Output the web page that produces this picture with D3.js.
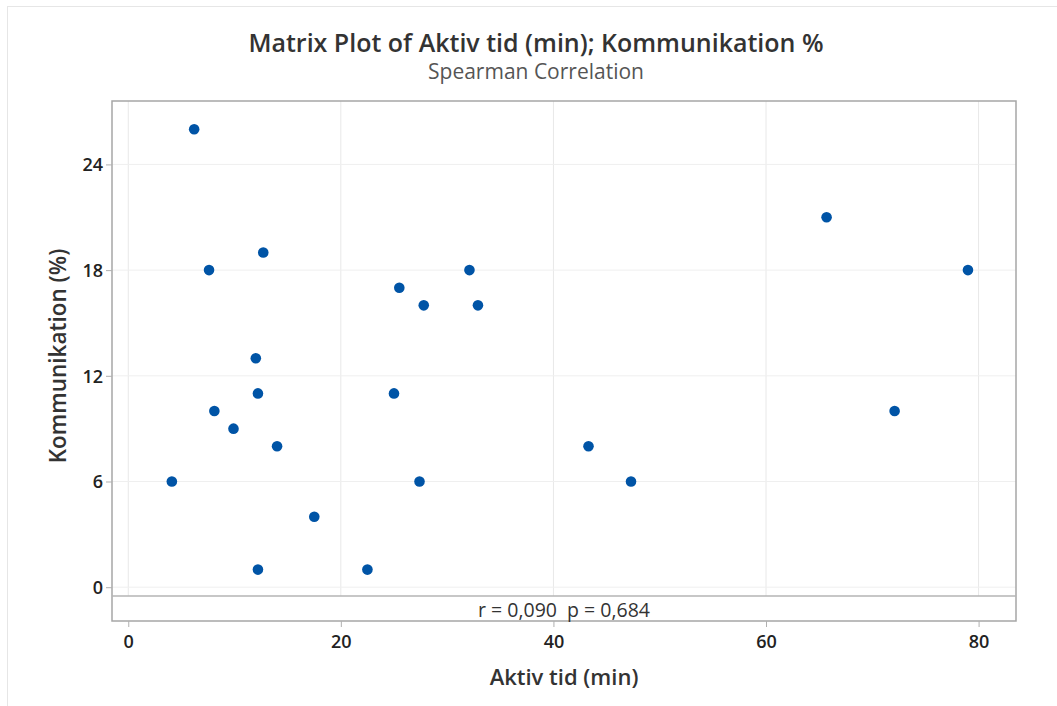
<!DOCTYPE html>
<html>
<head>
<meta charset="utf-8">
<script src="https://cdn.jsdelivr.net/npm/d3@7"></script>
<style>
  body { margin: 0; background: #fff; }
  svg { display: block; font-family: "Open Sans", "Noto Sans", sans-serif; }
</style>
</head>
<body>
<svg id="chart"></svg>
<script>
const width = 1057;
const height = 706;

// Aktiv tid (min) vs Kommunikation (%)
const aktivTid = [6.2, 7.6, 12.7, 12.0, 12.2, 8.1, 9.9, 14.0, 4.1, 17.5, 12.2, 22.5,
                  25.0, 25.5, 27.8, 27.4, 32.1, 32.9, 43.3, 47.3, 65.7, 72.1, 79.0];
const kommunikation = [26, 18, 19, 13, 11, 10, 9, 8, 6, 4, 1, 1,
                       11, 17, 16, 6, 18, 16, 8, 6, 21, 10, 18];
const xTicks = [0, 20, 40, 60, 80];
const yTicks = [0, 6, 12, 18, 24];
const titleText = "Matrix Plot of Aktiv tid (min); Kommunikation %";
const subtitleText = "Spearman Correlation";
const statText = "r = 0,090  p = 0,684";

const frame = { left: 112, top: 101, right: 1016, bottom: 621, sep: 596 };
const fontFamily = '"Open Sans", "Noto Sans", sans-serif';

const svg = d3.select("#chart")
    .attr("width", width)
    .attr("height", height);

// light outer border (top and left only, like the screenshot)
svg.append("line").attr("x1", 7).attr("x2", width).attr("y1", 6.5).attr("y2", 6.5)
    .attr("stroke", "#e6e6e6");
svg.append("line").attr("x1", 7.5).attr("x2", 7.5).attr("y1", 6).attr("y2", height)
    .attr("stroke", "#e6e6e6");

const x = d3.scaleLinear()
    .domain([-1.53, 83.52])
    .range([frame.left, frame.right]);

const y = d3.scaleLinear()
    .domain([-0.5, 27.6])
    .range([frame.sep, frame.top]);

// gridlines
svg.append("g")
    .selectAll("line")
    .data(xTicks)
    .join("line")
    .attr("x1", d => x(d)).attr("x2", d => x(d))
    .attr("y1", frame.top).attr("y2", frame.sep)
    .attr("stroke", "#e8e8e8");

svg.append("g")
    .selectAll("line")
    .data(yTicks)
    .join("line")
    .attr("x1", frame.left).attr("x2", frame.right)
    .attr("y1", d => y(d)).attr("y2", d => y(d))
    .attr("stroke", "#efefef");

// frame + separator for the stat row
svg.append("rect")
    .attr("x", frame.left).attr("y", frame.top)
    .attr("width", frame.right - frame.left)
    .attr("height", frame.bottom - frame.top)
    .attr("fill", "none")
    .attr("stroke", "#a6a6a6")
    .attr("stroke-width", 1.5);

svg.append("line")
    .attr("x1", frame.left).attr("x2", frame.right)
    .attr("y1", frame.sep).attr("y2", frame.sep)
    .attr("stroke", "#b4b4b4")
    .attr("stroke-width", 1.5);

// axes
const xAxis = svg.append("g")
    .attr("transform", `translate(0,${frame.bottom})`)
    .call(d3.axisBottom(x).tickValues(xTicks).tickSize(6).tickPadding(8));

const yAxis = svg.append("g")
    .attr("transform", `translate(${frame.left},0)`)
    .call(d3.axisLeft(y).tickValues(yTicks).tickSize(6).tickPadding(3));

[xAxis, yAxis].forEach(g => {
    g.attr("font-family", fontFamily).attr("font-size", null);
    g.select(".domain").remove();
    g.selectAll(".tick line").attr("stroke", "#b0b0b0");
    g.selectAll(".tick text")
        .attr("fill", "#222")
        .style("font-size", "18px")
        .style("font-weight", "600");
});
yAxis.selectAll(".tick text").attr("dy", "0.36em");

// points
svg.append("g")
    .selectAll("circle")
    .data(aktivTid.map((v, i) => [v, kommunikation[i]]))
    .join("circle")
    .attr("cx", d => x(d[0]))
    .attr("cy", d => y(d[1]))
    .attr("r", 5.3)
    .attr("fill", "#0054a6");

// stat text
svg.append("text")
    .attr("x", (frame.left + frame.right) / 2)
    .attr("y", 617)
    .attr("text-anchor", "middle")
    .attr("fill", "#333")
    .style("font-size", "19.5px")
    .style("white-space", "pre")
    .text(statText);

// titles
svg.append("text")
    .attr("x", 536)
    .attr("y", 52)
    .attr("text-anchor", "middle")
    .attr("fill", "#333")
    .style("font-size", "25px")
    .style("font-weight", "600")
    .text(titleText);

svg.append("text")
    .attr("x", 536)
    .attr("y", 79)
    .attr("text-anchor", "middle")
    .attr("fill", "#555")
    .style("font-size", "21px")
    .text(subtitleText);

// axis labels
svg.append("text")
    .attr("x", (frame.left + frame.right) / 2)
    .attr("y", 685)
    .attr("text-anchor", "middle")
    .attr("fill", "#333")
    .style("font-size", "22px")
    .style("font-weight", "600")
    .text("Aktiv tid (min)");

svg.append("text")
    .attr("transform", "translate(66,356) rotate(-90)")
    .attr("text-anchor", "middle")
    .attr("fill", "#333")
    .style("font-size", "22.5px")
    .style("font-weight", "600")
    .text("Kommunikation (%)");
</script>
</body>
</html>
